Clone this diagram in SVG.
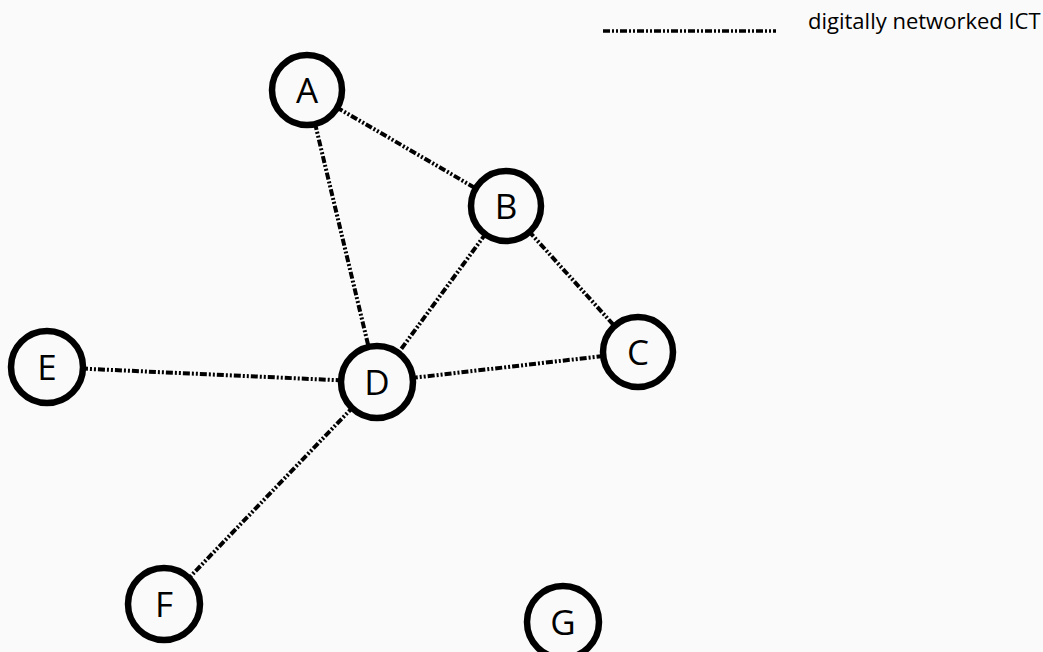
<svg xmlns="http://www.w3.org/2000/svg" width="1043" height="652" viewBox="0 0 1043 652">
<style>
.bg{fill:#fafafa}
.link{stroke:#000;stroke-width:4;fill:none;stroke-dasharray:7 2 2 2 2 2}
.leg{stroke:#000;stroke-width:3.5;fill:none;stroke-dasharray:7 2 2 2 2 2}
.node circle{fill:#fafafa;stroke:#000;stroke-width:6.5}
.node text{font-family:"Open Sans","Noto Sans",sans-serif;font-size:35px;text-anchor:middle;dominant-baseline:central;fill:#000}
.legend{font-family:"Open Sans","Noto Sans",sans-serif;font-size:22px;fill:#000}
</style>
<rect class="bg" x="0" y="0" width="1043" height="652"/>
<g id="legend">
<line class="leg" x1="603" y1="31" x2="776" y2="31"/>
<text class="legend" x="808" y="29">digitally networked ICT</text>
</g>
<g id="connectors">
<line class="link" x1="307" y1="90" x2="506" y2="206"/>
<line class="link" x1="307" y1="90" x2="377" y2="382"/>
<line class="link" x1="506" y1="206" x2="638" y2="352"/>
<line class="link" x1="506" y1="206" x2="377" y2="382"/>
<line class="link" x1="47" y1="367" x2="377" y2="382"/>
<line class="link" x1="377" y1="382" x2="638" y2="352"/>
<line class="link" x1="377" y1="382" x2="164" y2="604"/>
</g>
<g id="node-A" class="node"><circle cx="307" cy="90" r="35"/><text x="307" y="89">A</text></g>
<g id="node-B" class="node"><circle cx="506" cy="206" r="35"/><text x="506" y="205">B</text></g>
<g id="node-C" class="node"><circle cx="638" cy="352" r="35"/><text x="638" y="351">C</text></g>
<g id="node-D" class="node"><circle cx="377" cy="382" r="36"/><text x="377" y="381">D</text></g>
<g id="node-E" class="node"><circle cx="47" cy="367" r="36"/><text x="47" y="366">E</text></g>
<g id="node-F" class="node"><circle cx="164" cy="604" r="36"/><text x="164" y="603">F</text></g>
<g id="node-G" class="node"><circle cx="563" cy="622" r="36"/><text x="563" y="621">G</text></g>
</svg>
